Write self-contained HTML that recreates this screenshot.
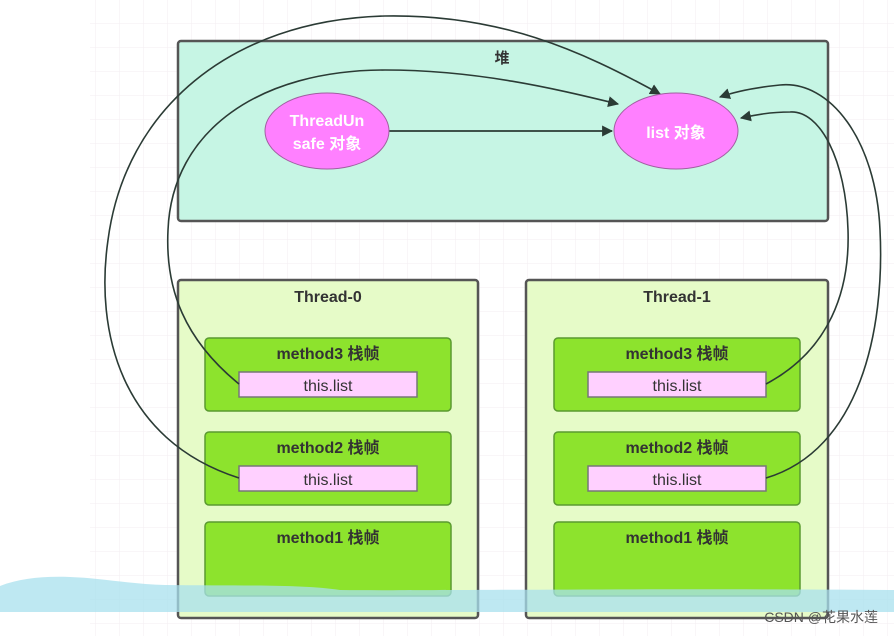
<!DOCTYPE html>
<html><head><meta charset="utf-8"><style>
html,body{margin:0;padding:0;background:#fff;}
svg{display:block;font-family:"Liberation Sans","Noto Sans CJK SC",sans-serif;}
</style></head><body>
<svg width="894" height="636" viewBox="0 0 894 636" xmlns="http://www.w3.org/2000/svg">
<defs>
<pattern id="g" width="24" height="24" patternUnits="userSpaceOnUse">
<path d="M24 0V24M0 24H24" stroke="#f3eef2" stroke-width="1" fill="none"/>
</pattern>
<marker id="a" viewBox="0 0 10 10" refX="9" refY="5" markerWidth="11" markerHeight="11" orient="auto" markerUnits="userSpaceOnUse">
<path d="M0 0L10 5L0 10z" fill="#2b3b35"/>
</marker>
</defs>
<rect x="90" y="0" width="804" height="636" fill="url(#g)"/>
<rect x="178" y="41" width="650" height="180" rx="3" fill="#c6f5e4" stroke="#555" stroke-width="2.5"/>
<text x="502" y="63" font-size="15" font-weight="bold" fill="#333" text-anchor="middle">堆</text>
<g stroke="#555" stroke-width="2.5">
<rect x="178" y="280" width="300" height="338" rx="3" fill="#e6fbc8"/>
<rect x="526" y="280" width="302" height="338" rx="3" fill="#e6fbc8"/>
</g>
<text x="328" y="302" font-size="16" font-weight="bold" fill="#333" text-anchor="middle">Thread-0</text>
<text x="677" y="302" font-size="16" font-weight="bold" fill="#333" text-anchor="middle">Thread-1</text>
<g stroke="#5a9a30" stroke-width="1.5" fill="#8de32d">
<rect x="205" y="338" width="246" height="73" rx="4"/>
<rect x="205" y="432" width="246" height="73" rx="4"/>
<rect x="205" y="522" width="246" height="74" rx="4"/>
<rect x="554" y="338" width="246" height="73" rx="4"/>
<rect x="554" y="432" width="246" height="73" rx="4"/>
<rect x="554" y="522" width="246" height="74" rx="4"/>
</g>
<g font-size="16" font-weight="bold" fill="#333" text-anchor="middle">
<text x="328" y="359">method3 栈帧</text>
<text x="328" y="453">method2 栈帧</text>
<text x="328" y="543">method1 栈帧</text>
<text x="677" y="359">method3 栈帧</text>
<text x="677" y="453">method2 栈帧</text>
<text x="677" y="543">method1 栈帧</text>
</g>
<g stroke="#777" stroke-width="1.5" fill="#ffd0ff">
<rect x="239" y="372" width="178" height="25"/>
<rect x="239" y="466" width="178" height="25"/>
<rect x="588" y="372" width="178" height="25"/>
<rect x="588" y="466" width="178" height="25"/>
</g>
<g font-size="16" fill="#333" text-anchor="middle">
<text x="328" y="391">this.list</text>
<text x="328" y="485">this.list</text>
<text x="677" y="391">this.list</text>
<text x="677" y="485">this.list</text>
</g>
<g fill="none" stroke="#2b3b35" stroke-width="1.6">
<path d="M239 478 C120 440 95 330 108 240 C125 110 230 20 385 16 C500 14 580 50 660 94" marker-end="url(#a)"/>
<path d="M239 384 C185 340 165 290 168 230 C172 130 260 70 385 70 C480 70 560 90 618 104" marker-end="url(#a)"/>
<path d="M766 384 C830 350 850 290 848 230 C846 160 820 110 790 112 C770 112 755 115 741 118" marker-end="url(#a)"/>
<path d="M766 478 C860 450 885 330 880 230 C876 140 830 80 780 85 C760 87 740 90 720 97" marker-end="url(#a)"/>
</g>
<line x1="389" y1="131" x2="612" y2="131" stroke="#2b3b35" stroke-width="1.8" marker-end="url(#a)"/>
<ellipse cx="327" cy="131" rx="62" ry="38" fill="#ff80ff" stroke="#a060a0" stroke-width="1"/>
<text x="327" y="126" font-size="16" font-weight="bold" fill="#fff" text-anchor="middle">ThreadUn</text>
<text x="327" y="149" font-size="16" font-weight="bold" fill="#fff" text-anchor="middle">safe 对象</text>
<ellipse cx="676" cy="131" rx="62" ry="38" fill="#ff80ff" stroke="#a060a0" stroke-width="1"/>
<text x="676" y="138" font-size="16" font-weight="bold" fill="#fff" text-anchor="middle">list 对象</text>
<path d="M0 586 C20 578 45 576 70 577 C100 578 130 584 165 585 C240 586 300 584 340 590 C450 591 600 588 894 590 L894 612 L0 612 Z" fill="#a8e0ee" opacity="0.75"/>
<text x="878" y="622" font-size="14" fill="#555" text-anchor="end">CSDN @花果水莲</text>
</svg>
</body></html>
